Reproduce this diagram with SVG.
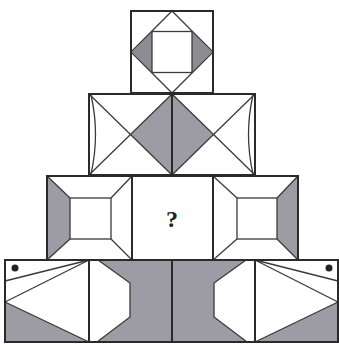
<svg xmlns="http://www.w3.org/2000/svg" width="339" height="344" viewBox="0 0 339 344">
<style>
.o{fill:none;stroke:#2a2a2a;stroke-width:2}
.t{fill:none;stroke:#3a3a3a;stroke-width:1.3}
.g{fill:#9d9ba3;stroke:none}
.gd{fill:#8e8c93;stroke:none}
.q{font-family:"Liberation Serif",serif;font-weight:bold;font-size:24px;fill:#222}
</style>
<rect width="339" height="344" fill="#fff"/>
<g id="row1">
<polygon class="gd" points="132,52 152,31.5 152,72.5"/>
<polygon class="gd" points="212,52 192,31.5 192,72.5"/>
<polygon class="t" points="172,11 213,52 172,93 131,52"/>
<rect class="t" x="152" y="31.5" width="40" height="41"/>
<rect class="o" x="131" y="11" width="82" height="82"/>
</g>
<g id="row2">
<polygon class="g" points="172,94 131,134.5 172,175 213,134.5"/>
<line class="t" x1="89" y1="94" x2="172" y2="175"/>
<line class="t" x1="89" y1="175" x2="172" y2="94"/>
<line class="t" x1="172" y1="94" x2="255" y2="175"/>
<line class="t" x1="172" y1="175" x2="255" y2="94"/>
<path class="t" d="M91,95 Q100,134.5 91,174"/>
<path class="t" d="M253,95 Q244,134.5 253,174"/>
<line class="o" x1="172" y1="94" x2="172" y2="175"/>
<rect class="o" x="89" y="94" width="166" height="81"/>
</g>
<g id="row3-left">
<polygon class="g" points="47,176 70,198 70,239 47,260"/>
<line class="t" x1="47" y1="176" x2="70" y2="198"/>
<line class="t" x1="132" y1="176" x2="111" y2="198"/>
<line class="t" x1="47" y1="260" x2="70" y2="239"/>
<line class="t" x1="132" y1="260" x2="111" y2="239"/>
<rect class="t" x="70" y="198" width="41" height="41"/>
<rect class="o" x="47" y="176" width="85" height="84"/>
</g>
<g id="row3-mid">
<rect class="o" x="132" y="176" width="81" height="84"/>
<text class="q" x="172" y="227" text-anchor="middle">?</text>
</g>
<g id="row3-right">
<polygon class="g" points="298,176 277,198 277,239 298,260"/>
<line class="t" x1="213" y1="176" x2="237" y2="198"/>
<line class="t" x1="298" y1="176" x2="277" y2="198"/>
<line class="t" x1="213" y1="260" x2="237" y2="239"/>
<line class="t" x1="298" y1="260" x2="277" y2="239"/>
<rect class="t" x="237" y="198" width="40" height="41"/>
<rect class="o" x="213" y="176" width="85" height="84"/>
</g>
<g id="row4-c1">
<polygon class="g" points="5,302 89,342 5,342"/>
<line class="t" x1="5" y1="281" x2="89" y2="260"/>
<line class="t" x1="5" y1="302" x2="89" y2="260"/>
<line class="t" x1="5" y1="302" x2="89" y2="342"/>
<circle cx="15" cy="268" r="3.5" fill="#222"/>
</g>
<g id="row4-c2">
<polygon class="g" points="89,260 172,260 172,342 89,342 97,342 130,317 130,283 98,260 89,260"/>
<polyline class="t" points="98,260 130,283 130,317 97,342"/>
</g>
<g id="row4-c3">
<polygon class="g" points="255,260 172,260 172,342 255,342 247,342 214,317 214,283 246,260 255,260"/>
<polyline class="t" points="246,260 214,283 214,317 247,342"/>
</g>
<g id="row4-c4">
<polygon class="g" points="338,302 255,342 338,342"/>
<line class="t" x1="338" y1="281" x2="255" y2="260"/>
<line class="t" x1="338" y1="302" x2="255" y2="260"/>
<line class="t" x1="338" y1="302" x2="255" y2="342"/>
<circle cx="329" cy="268" r="3.5" fill="#222"/>
</g>
<g id="row4-frame">
<line class="o" x1="89" y1="260" x2="89" y2="342"/>
<line class="o" x1="172" y1="260" x2="172" y2="342"/>
<line class="o" x1="255" y1="260" x2="255" y2="342"/>
<rect class="o" x="5" y="260" width="333" height="82"/>
</g>
</svg>
